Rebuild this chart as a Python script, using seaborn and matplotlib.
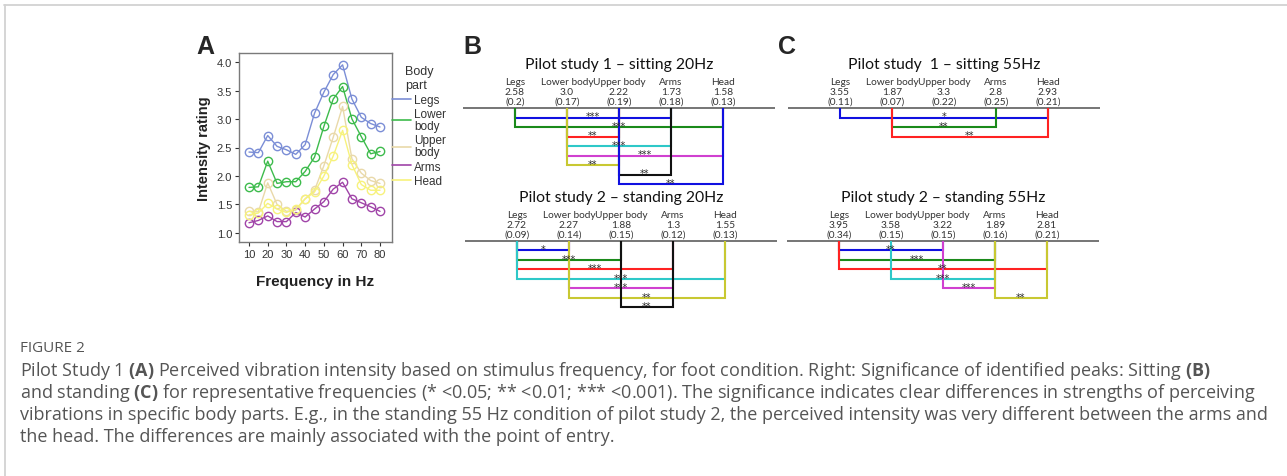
import matplotlib
matplotlib.use("Agg")
import matplotlib.pyplot as plt
import seaborn as sns
import pandas as pd
from matplotlib.lines import Line2D

# ---------------- data: panel A ----------------
freqs = [10, 15, 20, 25, 30, 35, 40, 45, 50, 55, 60, 65, 70, 75, 80]
legs = [2.42, 2.41, 2.71, 2.52, 2.46, 2.38, 2.55, 3.10, 3.47, 3.78, 3.95, 3.35, 3.03, 2.92, 2.86]
lower_body = [1.80, 1.81, 2.26, 1.87, 1.90, 1.90, 2.08, 2.33, 2.87, 3.35, 3.57, 3.00, 2.69, 2.39, 2.43]
upper_body = [1.38, 1.37, 1.88, 1.50, 1.38, 1.40, 1.60, 1.75, 2.18, 2.68, 3.22, 2.30, 2.05, 1.92, 1.87]
arms = [1.18, 1.22, 1.30, 1.20, 1.20, 1.36, 1.28, 1.42, 1.55, 1.77, 1.89, 1.60, 1.53, 1.46, 1.38]
head = [1.32, 1.35, 1.52, 1.42, 1.36, 1.42, 1.60, 1.72, 2.00, 2.35, 2.80, 2.20, 1.85, 1.75, 1.75]
parts = ["Legs", "Lower body", "Upper body", "Arms", "Head"]
part_legend_labels = ["Legs", "Lower\nbody", "Upper\nbody", "Arms", "Head"]
part_colors = ["#7b8ed6", "#3dbb4c", "#e9d9a9", "#a044a8", "#f7f27c"]
y_ticks = [1.0, 1.5, 2.0, 2.5, 3.0, 3.5, 4.0]
x_ticks = [10, 20, 30, 40, 50, 60, 70, 80]

# ---------------- data: panels B and C ----------------
cols = ["Legs", "Lower body", "Upper body", "Arms", "Head"]

b1_title = "Pilot study 1 \u2013 sitting 20Hz"
b1_means = [2.58, 3.0, 2.22, 1.73, 1.58]
b1_sds = [0.2, 0.17, 0.19, 0.18, 0.13]
b1_pairs = [(0, 3), (0, 4), (1, 2), (1, 3), (1, 4), (1, 2), (2, 3), (2, 4)]
b1_sig = ["***", "***", "**", "***", "***", "**", "**", "**"]
b1_colors = ["#1010e0", "#1a8a1a", "#ff2222", "#2ec8c8", "#d040d0", "#c8c832", "#111111", "#1010e0"]

b2_title = "Pilot study 2 \u2013 standing 20Hz"
b2_means = [2.72, 2.27, 1.88, 1.3, 1.55]
b2_sds = [0.09, 0.14, 0.15, 0.12, 0.13]
b2_pairs = [(0, 1), (0, 2), (0, 3), (0, 4), (1, 3), (1, 4), (2, 3)]
b2_sig = ["*", "***", "***", "***", "***", "**", "**"]
b2_colors = ["#1010e0", "#1a8a1a", "#ff2222", "#2ec8c8", "#d040d0", "#c8c832", "#111111"]

c1_title = "Pilot study  1 \u2013 sitting 55Hz"
c1_means = [3.55, 1.87, 3.3, 2.8, 2.93]
c1_sds = [0.11, 0.07, 0.22, 0.25, 0.21]
c1_pairs = [(0, 4), (1, 3), (1, 4)]
c1_sig = ["*", "**", "**"]
c1_colors = ["#1010e0", "#1a8a1a", "#ff2222"]

c2_title = "Pilot study 2 \u2013 standing 55Hz"
c2_means = [3.95, 3.58, 3.22, 1.89, 2.81]
c2_sds = [0.34, 0.15, 0.15, 0.16, 0.21]
c2_pairs = [(0, 2), (0, 3), (0, 4), (1, 3), (2, 3), (3, 4)]
c2_sig = ["**", "***", "**", "***", "***", "**"]
c2_colors = ["#1010e0", "#1a8a1a", "#ff2222", "#2ec8c8", "#d040d0", "#c8c832"]

caption_head = "FIGURE 2"
caption_lines = [
    r"Pilot Study 1 $\mathbf{(A)}$ Perceived vibration intensity based on stimulus frequency, for foot condition. Right: Significance of identified peaks: Sitting $\mathbf{(B)}$",
    r"and standing $\mathbf{(C)}$ for representative frequencies (* <0.05; ** <0.01; *** <0.001). The significance indicates clear differences in strengths of perceiving",
    "vibrations in specific body parts. E.g., in the standing 55 Hz condition of pilot study 2, the perceived intensity was very different between the arms and",
    "the head. The differences are mainly associated with the point of entry.",
]

# ---------------- figure ----------------
sns.set_style("white")
plt.rcParams["font.family"] = ["Liberation Sans", "DejaVu Sans"]
plt.rcParams["mathtext.fontset"] = "custom"
plt.rcParams["mathtext.bf"] = "Open Sans:bold"
plt.rcParams["mathtext.rm"] = "Open Sans"

W, H = 1287, 477
fig = plt.figure(figsize=(W / 100, H / 100), dpi=100)
fig.patch.set_facecolor("white")


def px_axes(left, top, right, bottom):
    return fig.add_axes([left / W, 1 - bottom / H, (right - left) / W, (bottom - top) / H])


# border of the figure frame
fig.add_artist(Line2D([4 / W, 1], [1 - 5.5 / H, 1 - 5.5 / H], transform=fig.transFigure, color="#d2d2d2", lw=1.3))
fig.add_artist(Line2D([4.5 / W, 4.5 / W], [0, 1 - 5.5 / H], transform=fig.transFigure, color="#d2d2d2", lw=1.3))

# ---------------- panel A ----------------
axA = px_axes(239, 54, 392, 243)
df = pd.DataFrame({
    "freq": freqs * 5,
    "rating": legs + lower_body + upper_body + arms + head,
    "part": sum([[p] * len(freqs) for p in parts], []),
})
sns.lineplot(data=df, x="freq", y="rating", hue="part", hue_order=parts,
             palette=part_colors, marker="o", ax=axA, legend=False, lw=1.0,
             markersize=6)
for ln in axA.lines:
    c = ln.get_color()
    ln.set_markerfacecolor("none")
    ln.set_markeredgecolor(c)
    ln.set_markeredgewidth(1.0)
axA.set_xlim(4.66, 86.4)
axA.set_ylim(0.842, 4.158)
axA.set_xticks(x_ticks)
axA.set_yticks(y_ticks)
axA.set_yticklabels([f"{v:.1f}" for v in y_ticks])
axA.tick_params(axis="both", labelsize=8, colors="#333333", length=3, width=0.8,
                direction="out", left=True, bottom=True, pad=2)
for s in axA.spines.values():
    s.set_visible(True)
    s.set_color("#7a7a7a")
    s.set_linewidth(1.0)
axA.set_xlabel("Frequency in Hz", fontsize=11, fontweight="bold", color="#222222", labelpad=11)
axA.set_ylabel("Intensity rating", fontsize=10.5, fontweight="bold", color="#222222", labelpad=4)
handles = [Line2D([], [], color=c, lw=1.2) for c in part_colors]
leg = axA.legend(handles, part_legend_labels, title="Body\npart", loc="upper left",
                 bbox_to_anchor=(1.0, 0.935), frameon=False, fontsize=8.5,
                 title_fontsize=9, handlelength=1.6, handletextpad=0.25,
                 labelspacing=0.22, borderaxespad=0, borderpad=0)
for t in leg.get_texts():
    t.set_color("#333333")
    t.set_linespacing(0.95)
leg.get_title().set_color("#333333")
fig.text(205 / W, 1 - 47 / H, "A", fontsize=18, fontweight="bold", ha="center", va="center")

# ---------------- panels B and C ----------------
U = 9.5  # pixel size of one bracket level


def bracket_panel(left, baseline, title, means, sds, pairs, sigs, colors):
    top_lv, bot_lv = -5.6, 9.0
    ax = px_axes(left, baseline + top_lv * U, left + 6 * 52, baseline + bot_lv * U)
    ax.set_xlim(-1.0, 5.0)
    ax.set_ylim(bot_lv, top_lv)
    ax.axis("off")
    ax.patch.set_alpha(0)
    ax.axhline(0, color="#6a6a6a", lw=1.3, zorder=1)
    for k, ((i, j), s, c) in enumerate(zip(pairs, sigs, colors), start=1):
        ax.plot([i, i, j, j], [0, k, k, 0], color=c, lw=1.5, zorder=2 + k,
                solid_joinstyle="miter", solid_capstyle="butt")
        ax.text((i + j) / 2, k + 0.2, s, fontsize=7, color="#2a2a2a",
                ha="center", va="baseline", family="DejaVu Sans", zorder=30)
    for i, (name, m, sd) in enumerate(zip(cols, means, sds)):
        kw = dict(fontsize=7.3, color="#333333", ha="center", va="center", family="Lato")
        ax.text(i, -2.75, name, **kw)
        ax.text(i, -1.7, str(m), **kw)
        ax.text(i, -0.72, f"({sd})", **kw)
    ax.text(2, -4.65, title, fontsize=11.3, color="#111111", ha="center", va="center", family="Lato")
    return ax


bracket_panel(463, 109, b1_title, b1_means, b1_sds, b1_pairs, b1_sig, b1_colors)
bracket_panel(465, 241.7, b2_title, b2_means, b2_sds, b2_pairs, b2_sig, b2_colors)
bracket_panel(788, 109, c1_title, c1_means, c1_sds, c1_pairs, c1_sig, c1_colors)
bracket_panel(787, 241.7, c2_title, c2_means, c2_sds, c2_pairs, c2_sig, c2_colors)
fig.text(472 / W, 1 - 47 / H, "B", fontsize=18, fontweight="bold", ha="center", va="center")
fig.text(787 / W, 1 - 47 / H, "C", fontsize=18, fontweight="bold", ha="center", va="center")

# ---------------- caption ----------------
fig.text(20 / W, 1 - 349 / H, caption_head, fontsize=11, color="#555555",
         ha="left", va="center", family="Open Sans")
cap_texts = []
for n, line in enumerate(caption_lines):
    t = fig.text(20 / W, 1 - (371 + 22 * n) / H, line, fontsize=11, color="#555555",
                 ha="left", va="center", family="Open Sans")
    cap_texts.append(t)
fig.canvas.draw()
r = fig.canvas.get_renderer()
w = cap_texts[2].get_window_extent(r).width
scale = 1250.0 / w
for t in cap_texts:
    t.set_fontsize(11 * scale)

fig.savefig("out.png", dpi=100, facecolor="white")
